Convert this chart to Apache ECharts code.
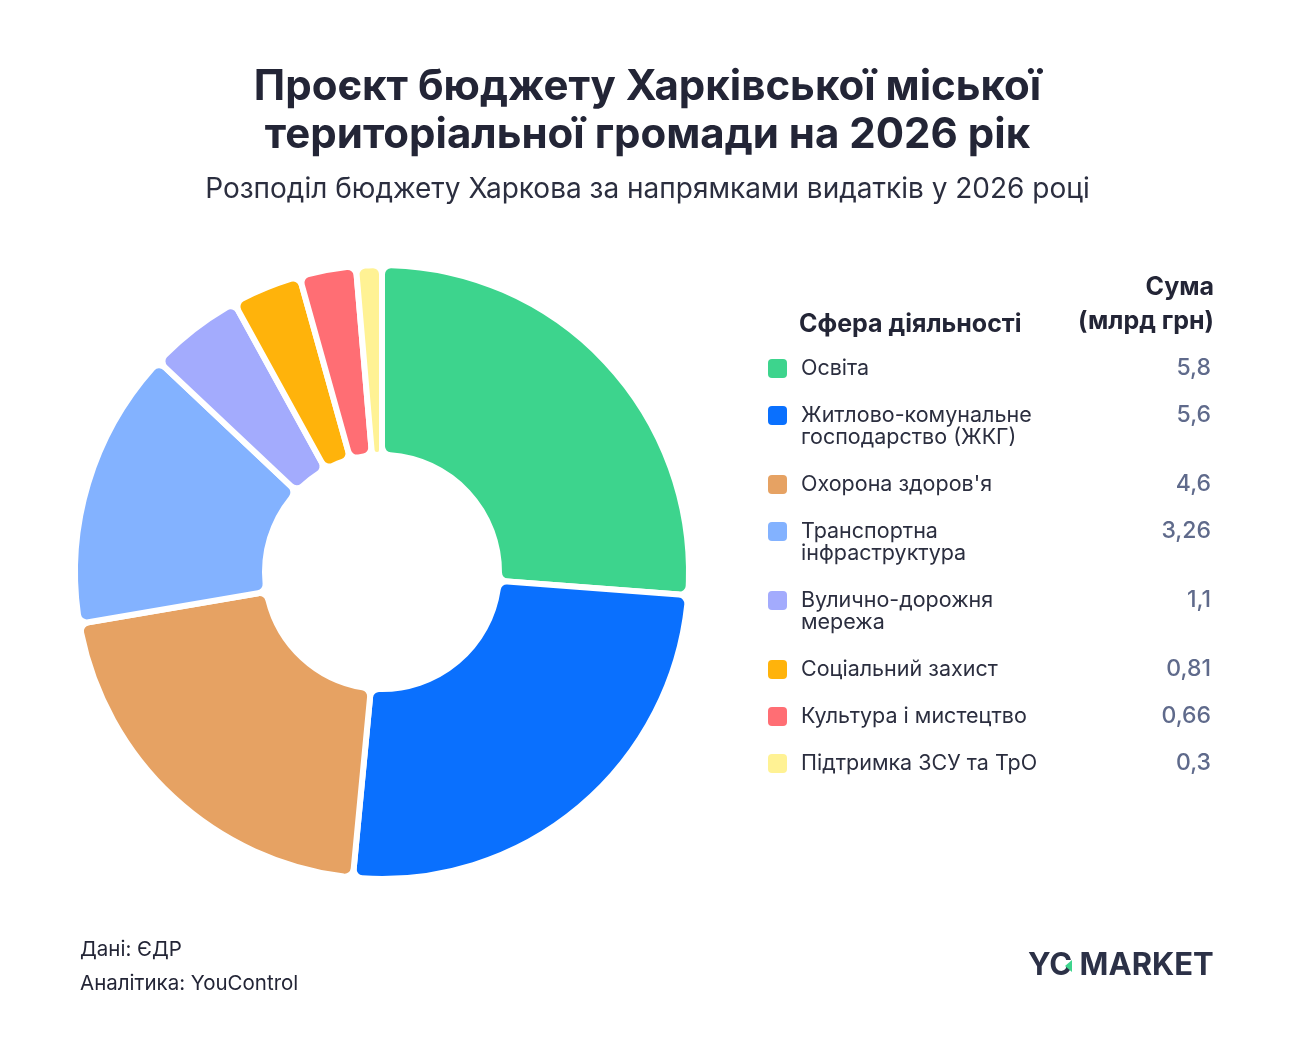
<!DOCTYPE html>
<html>
<head>
<meta charset="utf-8">
<script src="https://cdn.jsdelivr.net/npm/echarts@6/dist/echarts.min.js"></script>
<style>
  html, body { margin: 0; padding: 0; background: #fff; }
  #main { width: 1295px; height: 1055px; }
</style>
</head>
<body>
<div id="main"></div>
<script>
const chartDom = document.getElementById('main');
const myChart = echarts.init(chartDom);

// дані
const categories = [
	'Освіта',
	'Житлово-комунальне\nгосподарство (ЖКГ)',
	"Охорона здоров'я",
	'Транспортна\nінфраструктура',
	'Вулично-дорожня\nмережа',
	'Соціальний захист',
	'Культура і мистецтво',
	'Підтримка ЗСУ та ТрО'
];
const values = [5.8, 5.6, 4.6, 3.26, 1.1, 0.81, 0.66, 0.3];
const valueLabels = ['5,8', '5,6', '4,6', '3,26', '1,1', '0,81', '0,66', '0,3'];
const colors = ['#3dd48d', '#0a70fe', '#e6a263', '#83b2ff', '#a3abfd', '#ffb30b', '#ff6e74', '#fff294'];

const FONT = 'Inter, "Noto Sans", sans-serif';
const DARK = '#232536';

let rich = {
	g: { width: 14, lineHeight: 18 },
	s: { width: 19, lineHeight: 18 },
	n: { width: 330, fontSize: 21.5, color: '#2b2e3f', fontFamily: FONT, lineHeight: 25 },
	n2: { width: 330, fontSize: 21.5, color: '#2b2e3f', fontFamily: FONT, lineHeight: 20 },
	v: { width: 80, align: 'right', fontSize: 23, color: '#5f6a8b', fontFamily: FONT, fontWeight: 500, lineHeight: 25 }
};
categories.forEach((c, i) => {
	rich['m' + i] = { width: 19, height: 19, borderRadius: 4, backgroundColor: colors[i] };
});

let pieData = categories.map((c, i) => ({
	name: c,
	value: values[i],
	itemStyle: { color: colors[i] }
}));

let option = {
	backgroundColor: '#fff',
	animation: false,
	title: [
		{
			text: 'Проєкт бюджету Харківської міської\nтериторіальної громади на 2026 рік',
			left: 'center',
			top: 63,
			padding: 0,
			textStyle: { fontFamily: FONT, fontSize: 42, fontWeight: 700, color: DARK, lineHeight: 48 }
		},
		{
			text: 'Розподіл бюджету Харкова за напрямками видатків у 2026 році',
			left: 'center',
			top: 175,
			padding: 0,
			textStyle: { fontFamily: FONT, fontSize: 28, fontWeight: 400, color: '#2b2e3f', lineHeight: 30 }
		},
		{
			text: 'Дані: ЄДР\nАналітика: YouControl',
			left: 80,
			top: 933,
			padding: 0,
			textStyle: { fontFamily: FONT, fontSize: 20.5, fontWeight: 400, color: DARK, lineHeight: 34 }
		}
	],
	legend: {
		orient: 'vertical',
		left: 762,
		top: 357,
		padding: 0,
		itemWidth: 0,
		itemHeight: 0,
		itemGap: 24,
		icon: 'rect',
		selectedMode: false,
		data: categories,
		formatter: (name) => {
			let i = categories.indexOf(name);
			let lines = name.split('\n');
			let out = '{m' + i + '|}{g|}{n|' + lines[0] + '}{v|' + valueLabels[i] + '}';
			for (let k = 1; k < lines.length; k++) {
				out += '\n{s|}{g|}{n2|' + lines[k] + '}';
			}
			return out;
		},
		textStyle: { rich: rich, padding: 0 }
	},
	graphic: [
		{
			type: 'text',
			x: 799,
			y: 324,
			style: {
				text: 'Сфера діяльності',
				fontFamily: FONT,
				fontSize: 25,
				fontWeight: 700,
				fill: DARK,
				verticalAlign: 'middle'
			}
		},
		{
			type: 'text',
			x: 1214,
			y: 304,
			style: {
				text: 'Сума\n(млрд грн)',
				fontFamily: FONT,
				fontSize: 25,
				fontWeight: 700,
				fill: DARK,
				lineHeight: 34,
				align: 'right',
				verticalAlign: 'middle'
			}
		},
		{
			type: 'text',
			x: 1028,
			y: 966,
			style: {
				text: 'YC MARKET',
				fontFamily: FONT,
				fontSize: 31,
				fontWeight: 700,
				fill: '#2c3147',
				verticalAlign: 'middle'
			}
		},
		{
			type: 'polygon',
			shape: { points: [[1065, 966], [1072, 960], [1072, 972]] },
			style: { fill: '#3dd48d' }
		}
	],
	series: [
		{
			type: 'pie',
			center: [382, 572],
			radius: [117, 307],
			startAngle: 90,
			clockwise: true,
			avoidLabelOverlap: false,
			label: { show: false },
			labelLine: { show: false },
			silent: true,
			itemStyle: {
				borderColor: '#fff',
				borderWidth: 6,
				borderRadius: 9
			},
			data: pieData
		}
	]
};

myChart.setOption(option);
</script>
</body>
</html>
